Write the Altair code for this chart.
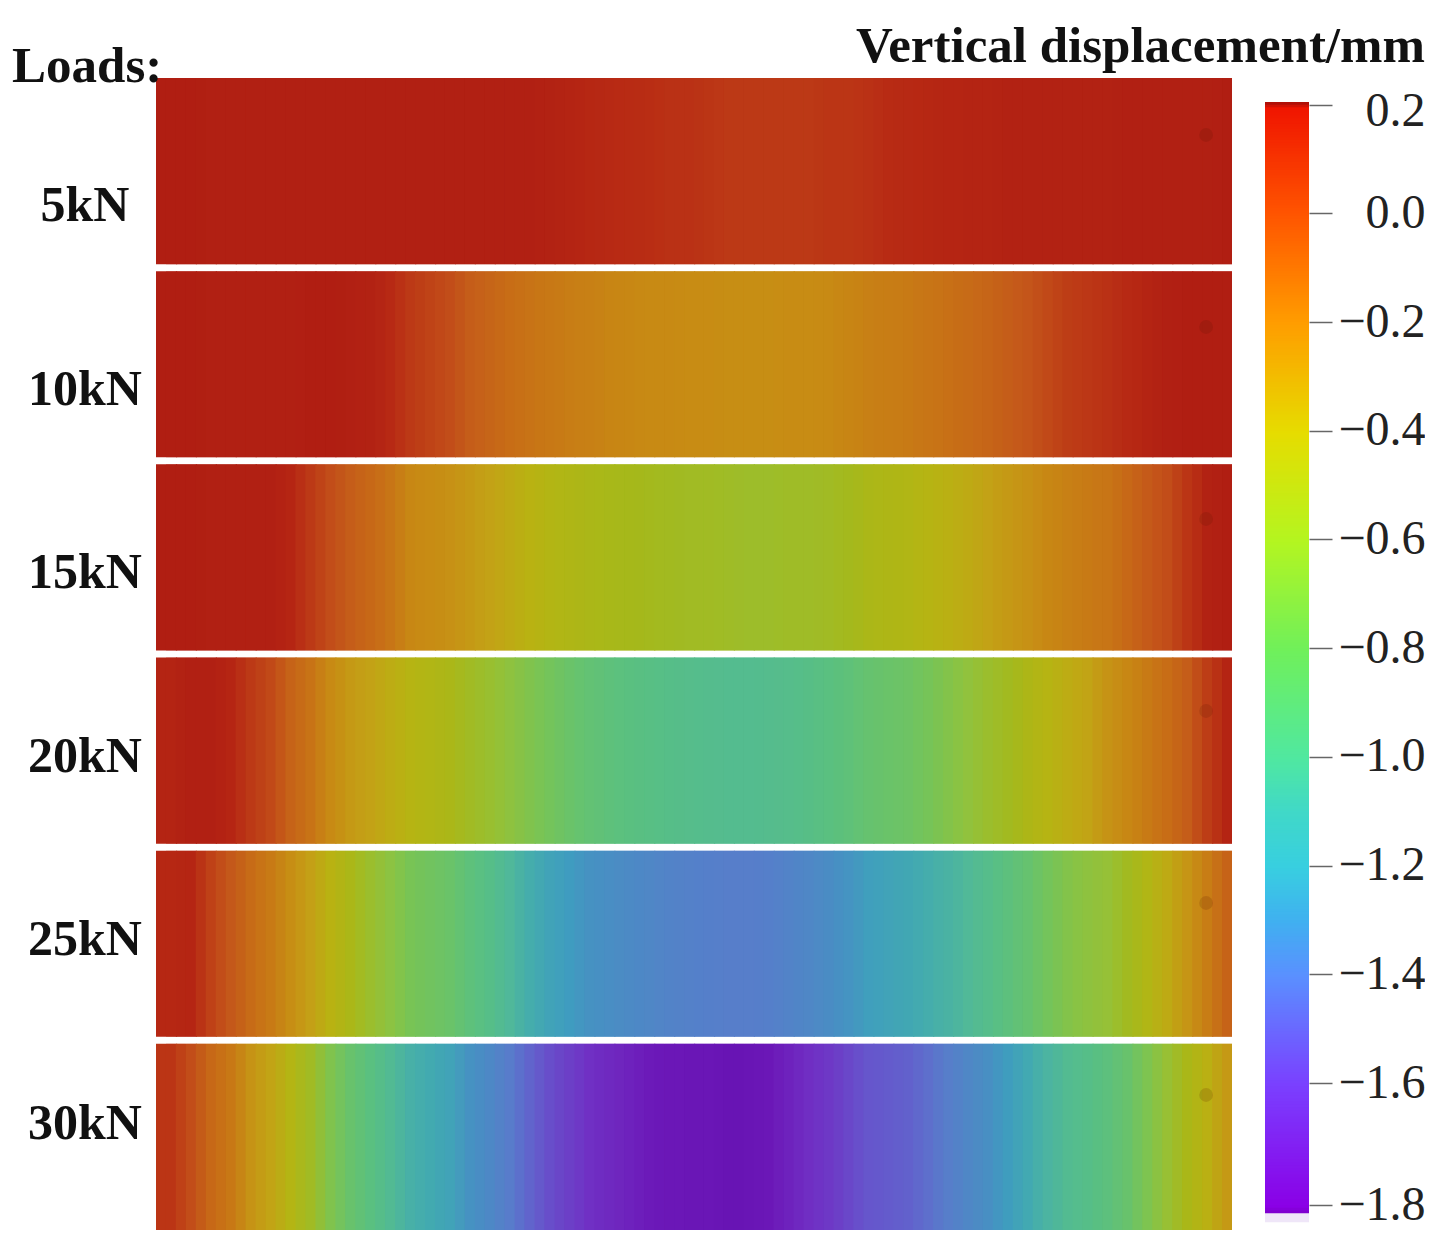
import altair as alt
import pandas as pd

loads = ["5kN", "10kN", "15kN", "20kN", "25kN", "30kN"]

row_5 = [.18,.18,.17,.17,.17,.17,.17,.17,.17,.17,.17,.17,.17,.17,.17,.17,.17,.17,.17,.16,.15,.13,.12,.11,.10,.09,.09,.08,
         .07,.07,.07,.07,.07,.08,.08,.09,.11,.12,.13,.14,.15,.15,.16,.16,.16,.16,.16,.16,.17,.17,.17,.17,.17,.18]
row_10 = [.18,.18,.17,.17,.17,.17,.17,.18,.18,.17,.16,.12,.07,.045,.02,-.03,-.06,-.09,-.11,-.13,-.15,-.16,-.18,-.19,-.2,-.2,-.21,-.21,
          -.22,-.22,-.22,-.21,-.21,-.2,-.18,-.16,-.15,-.14,-.12,-.1,-.08,-.06,-.03,0,.03,.06,.075,.09,.12,.15,.17,.18,.18,.18]
row_15 = [.18,.18,.17,.17,.17,.17,.14,.07,.02,-.03,-.07,-.12,-.19,-.21,-.23,-.27,-.31,-.35,-.39,-.43,-.45,-.47,-.49,-.5,-.51,-.52,-.53,-.53,
          -.54,-.55,-.55,-.54,-.54,-.53,-.51,-.47,-.455,-.44,-.41,-.38,-.35,-.31,-.27,-.23,-.19,-.16,-.14,-.12,-.07,-.02,.02,.08,.16,.18]
row_20 = [.15,.17,.17,.14,.07,.03,-.05,-.11,-.2,-.27,-.31,-.36,-.41,-.44,-.47,-.53,-.57,-.62,-.67,-.72,-.77,-.81,-.85,-.88,-.9,-.92,-.93,-.94,
          -.95,-.95,-.94,-.93,-.91,-.88,-.84,-.79,-.77,-.75,-.71,-.66,-.61,-.56,-.52,-.46,-.41,-.36,-.32,-.24,-.19,-.14,-.09,-.03,.06,.15]
row_25 = [.13,.14,.05,-.01,-.08,-.14,-.22,-.3,-.39,-.47,-.56,-.63,-.7,-.735,-.77,-.85,-.92,-1.0,-1.08,-1.15,-1.2,-1.26,-1.29,-1.31,-1.33,-1.35,-1.36,-1.37,
          -1.38,-1.38,-1.37,-1.35,-1.33,-1.3,-1.25,-1.18,-1.15,-1.12,-1.08,-1.04,-.99,-.93,-.86,-.79,-.72,-.66,-.62,-.59,-.52,-.44,-.35,-.25,-.15,-.05]
row_30 = [.08,.02,-.07,-.13,-.24,-.32,-.42,-.53,-.67,-.78,-.88,-.97,-1.06,-1.1,-1.15,-1.26,-1.32,-1.39,-1.46,-1.52,-1.56,-1.6,-1.63,-1.66,-1.69,-1.71,-1.72,-1.73,
          -1.75,-1.74,-1.71,-1.66,-1.61,-1.58,-1.54,-1.5,-1.485,-1.47,-1.43,-1.38,-1.33,-1.28,-1.19,-1.11,-1.03,-.96,-.92,-.86,-.78,-.68,-.58,-.48,-.38,-.27]
rows = [row_5, row_10, row_15, row_20, row_25, row_30]
spot_column = [52.7, 52.7, 52.7, 52.7, 52.7, 52.7]

panel_domain = [-1.8,-1.7,-1.6,-1.5,-1.4,-1.3,-1.2,-1.1,-1.0,-0.9,-0.8,-0.7,-0.6,-0.5,-0.4,-0.3,-0.2,-0.1,0.0,0.1,0.2]
panel_colors = ["#6410b0","#6c18b8","#7030c4","#6656cc","#5a7acc","#4a8cc4","#3f9cc0","#42aab0","#50b89a","#58bf84",
                "#64c272","#78c455","#94c23a","#a6b81a","#b8b412","#c4a016","#c88a14","#c87016","#c4551a","#b92d14","#ae1a12"]

bar_domain = [-1.81,-1.8,-1.6,-1.4,-1.3,-1.2,-1.1,-1.0,-0.8,-0.6,-0.4,-0.2,0.0,0.195,0.205]
bar_colors = ["#8000d0","#8a00e6","#7a40ff","#5a90ff","#40b0f0","#38cfe0","#40d8c8","#50e8a0","#70f05a","#b4f520","#e6dc00","#ff9d00","#ff5500","#f01500","#b01008"]
tick_values = [0.2,0.0,-0.2,-0.4,-0.6,-0.8,-1.0,-1.2,-1.4,-1.6,-1.8]
bar_levels = [round(0.205 - i * 0.005, 3) for i in range(404)]

SERIF = "Liberation Serif"
long = pd.DataFrame([
    {"load": l, "col": i, "col2": i + 1.06, "half": i + 0.5, "half2": i + 1.5, "v": v}
    for l, r in zip(loads, rows) for i, v in enumerate(r)
])
spots = pd.DataFrame({"load": loads, "col": spot_column})
names = pd.DataFrame({"load": loads})

xs = alt.Scale(domain=[0, 54], nice=False, zero=False)
ys = alt.Scale(domain=loads, paddingInner=7 / 193.5, paddingOuter=0)
cs = alt.Scale(domain=panel_domain, range=panel_colors, interpolate="rgb")

cells = alt.Chart(long).mark_rect(clip=True).encode(
    x=alt.X("col:Q", scale=xs, axis=None),
    x2="col2:Q",
    y=alt.Y("load:N", scale=ys, sort=loads, axis=None),
    color=alt.Color("v:Q", legend=None, scale=cs),
)
blend = alt.Chart(long).mark_rect(clip=True, opacity=0.5).encode(
    x=alt.X("half:Q", scale=xs, axis=None),
    x2="half2:Q",
    y=alt.Y("load:N", scale=ys, sort=loads, axis=None),
    color=alt.Color("v:Q", legend=None, scale=cs),
)
marks = alt.Chart(spots).mark_circle(size=190, color="#5a1000", opacity=0.16).encode(
    x=alt.X("col:Q", scale=xs, axis=None),
    y=alt.Y("load:N", scale=ys, sort=loads, axis=None),
    yOffset=alt.value(-39),
)
row_names = alt.Chart(names).mark_text(font=SERIF, fontSize=50, fontWeight="bold", color="#111",
                                       align="center", baseline="middle").encode(
    x=alt.value(-71),
    y=alt.Y("load:N", sort=loads, axis=None,
            scale=alt.Scale(type="point", domain=loads, range=[128, 1046], padding=0)),
    text="load:N",
)
loads_title = alt.Chart(pd.DataFrame({"t": ["Loads:"]})).mark_text(
    font=SERIF, fontSize=51, fontWeight="bold", color="#111", align="left", baseline="alphabetic"
).encode(x=alt.value(-144), y=alt.value(4), text="t:N")

left = alt.layer(cells, blend, marks, row_names, loads_title).resolve_scale(y="independent").properties(
    width=1076, height=1152)

yb = alt.Scale(domain=[0.249, -1.6, -1.8, -1.845], range=[0, 1005, 1127, 1152], nice=False, zero=False)
bar_axis = alt.Axis(
    orient="right", values=tick_values, format=".1f", title=None, grid=False, domain=False,
    tickSize=23, tickColor="#666", tickWidth=1.5, labelFont=SERIF, labelFontSize=48,
    labelColor="#222", labelAlign="right", labelPadding=93, labelBaseline="middle", labelOverlap=False,
    labelFlush=False,
    labelOffset={"condition": {"test": "datum.value == 0.2", "value": 7}, "value": 0})
bar_df = pd.DataFrame({"v": bar_levels, "v2": [round(v - 0.007, 3) for v in bar_levels]})
bar = alt.Chart(bar_df).mark_rect().encode(
    x=alt.value(0), x2=alt.value(44),
    y=alt.Y("v:Q", scale=yb, axis=bar_axis),
    y2="v2:Q",
    color=alt.Color("v:Q", legend=None,
                    scale=alt.Scale(domain=bar_domain, range=bar_colors, interpolate="rgb")),
)
foot = alt.Chart(pd.DataFrame({"v": [-1.815], "v2": [-1.831]})).mark_rect(color="#efe6f8").encode(
    x=alt.value(0), x2=alt.value(44),
    y=alt.Y("v:Q", scale=yb, axis=bar_axis), y2="v2:Q",
)
bar_title = alt.Chart(pd.DataFrame({"t": ["Vertical displacement/mm"]})).mark_text(
    font=SERIF, fontSize=51, fontWeight="bold", color="#111", align="right", baseline="alphabetic"
).encode(x=alt.value(160), y=alt.value(-16), text="t:N")

right = alt.layer(bar, foot, bar_title).properties(width=44, height=1152)

chart = alt.hconcat(left, right, spacing=33, bounds="flush").properties(
    padding={"left": 4, "top": 13, "right": 0, "bottom": 0}, background="white"
).resolve_scale(color="independent").configure_view(stroke=None)

chart.save("out.html", embed_options={"renderer": "svg", "actions": False})
